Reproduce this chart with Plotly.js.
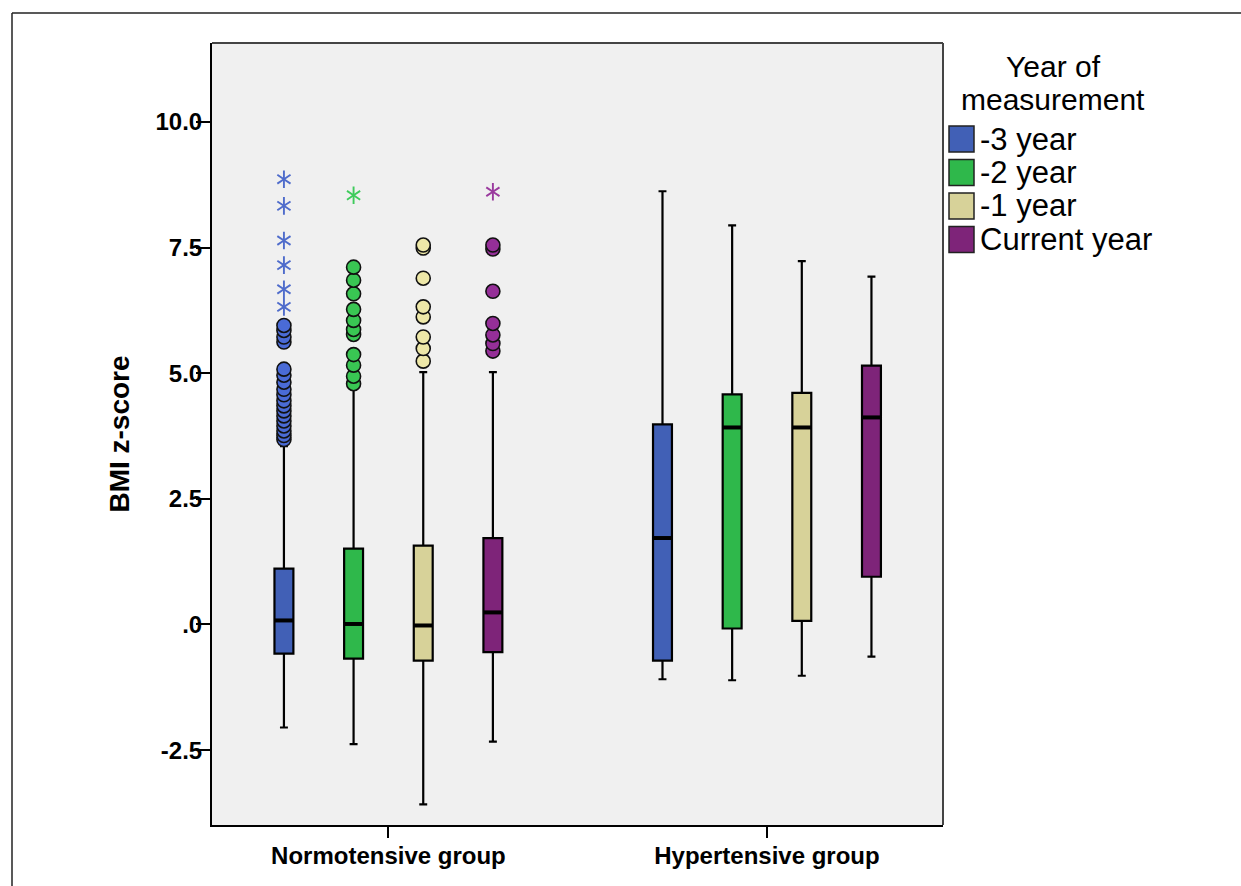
<!DOCTYPE html>
<html>
<head>
<meta charset="utf-8">
<script src="https://cdn.plot.ly/plotly-3.0.1.min.js"></script>
<style>html,body{margin:0;padding:0;background:#fff;}#chart{width:1241px;height:886px;}</style>
</head>
<body>
<div id="chart"></div>
<script>
// ---------- data ----------
const categories = ['Normotensive group', 'Hypertensive group'];
const seriesNames = ['-3 year', '-2 year', '-1 year', 'Current year'];
// rows = series, columns = [Normotensive, Hypertensive]
const lowerWhisker = [[-2.05, -1.09], [-2.38, -1.11], [-3.58, -1.02], [-2.33, -0.64]];
const q1Values     = [[-0.58, -0.72], [-0.68, -0.08], [-0.72,  0.07], [-0.55,  0.95]];
const medianValues = [[ 0.08,  1.72], [ 0.01,  3.92], [-0.02,  3.92], [ 0.24,  4.12]];
const q3Values     = [[ 1.11,  3.98], [ 1.51,  4.58], [ 1.57,  4.61], [ 1.72,  5.15]];
const upperWhisker = [[ 3.55,  8.62], [ 4.70,  7.94], [ 5.02,  7.23], [ 5.02,  6.92]];
// outliers (circles) and extremes (stars), Normotensive group only
const outlierValues = [
  [3.68, 3.76, 3.85, 3.95, 4.05, 4.15, 4.25, 4.35, 4.45, 4.57, 4.68, 4.82, 4.96, 5.08, 5.62, 5.72, 5.85, 5.95],
  [4.79, 4.94, 5.16, 5.37, 5.77, 5.87, 6.05, 6.27, 6.58, 6.85, 7.11],
  [5.24, 5.49, 5.72, 6.12, 6.32, 6.89, 7.49, 7.55],
  [5.44, 5.59, 5.76, 5.99, 6.63, 7.47, 7.55]
];
const extremeValues = [
  [6.32, 6.67, 7.15, 7.64, 8.33, 8.86],
  [8.54],
  [],
  [8.61]
];
const yTickVals = [-2.5, 0, 2.5, 5, 7.5, 10];
const yTickText = ['-2.5', '.0', '2.5', '5.0', '7.5', '10.0'];

// ---------- style ----------
const boxFill     = ['#4160B6', '#2FB84B', '#D7D299', '#7E2479'];
const outlierFill = ['#4A6BD6', '#39C653', '#EEE8A8', '#952F98'];
const starColor   = ['#4F6CCB', '#3FCB5C', '#D7D299', '#9A3A9E'];
const offsets = [-0.276, -0.092, 0.092, 0.276];
const boxWidth = 0.05;
const FONT = 'Liberation Sans, Arial, sans-serif';

const M = {l: 212, r: 298, t: 43, b: 61};
const W = 1241, H = 886;
const pw = W - M.l - M.r, ph = H - M.t - M.b;
const px = x => (x - M.l) / pw;
const py = y => (H - M.b - y) / ph;

const traces = [];
seriesNames.forEach((name, s) => {
  const xs = categories.map((c, g) => g + offsets[s]);
  traces.push({
    type: 'box', name: name, x: xs,
    q1: q1Values[s], median: medianValues[s], q3: q3Values[s],
    lowerfence: lowerWhisker[s], upperfence: upperWhisker[s],
    boxpoints: false, width: boxWidth, whiskerwidth: 0.42,
    fillcolor: boxFill[s], line: {color: '#000', width: 2.2},
    showlegend: false, hoverinfo: 'skip'
  });
  // thick median lines
  const mx = [], my = [];
  xs.forEach((x, g) => { mx.push(x - boxWidth / 2, x + boxWidth / 2, null); my.push(medianValues[s][g], medianValues[s][g], null); });
  traces.push({type: 'scatter', mode: 'lines', x: mx, y: my, line: {color: '#000', width: 4}, showlegend: false, hoverinfo: 'skip'});
  // outliers
  traces.push({
    type: 'scatter', mode: 'markers', x: outlierValues[s].map(() => xs[0]), y: outlierValues[s],
    marker: {symbol: 'circle', size: 14, color: outlierFill[s], line: {color: '#111', width: 1.6}},
    showlegend: false, hoverinfo: 'y'
  });
  // extremes (6-armed asterisk = y-up + y-down)
  const ex = [], ey = [], es = [];
  extremeValues[s].forEach(v => { ex.push(xs[0], xs[0]); ey.push(v, v); es.push('y-up-open', 'y-down-open'); });
  traces.push({
    type: 'scatter', mode: 'markers', x: ex, y: ey,
    marker: {symbol: es, size: 11, color: starColor[s], line: {color: starColor[s], width: 1.9}},
    showlegend: false, hoverinfo: 'y'
  });
});

// custom legend
const shapes = [
  // outer frame
  {type: 'line', xref: 'paper', yref: 'paper', x0: px(12), x1: px(1260), y0: py(13), y1: py(13), line: {color: '#222', width: 1.5}},
  {type: 'line', xref: 'paper', yref: 'paper', x0: px(12), x1: px(12), y0: py(13), y1: py(900), line: {color: '#222', width: 1.5}},
  // plot border (top/right)
  {type: 'line', xref: 'paper', yref: 'paper', x0: 0, x1: 1, y0: 1, y1: 1, line: {color: '#444', width: 2}},
  {type: 'line', xref: 'paper', yref: 'paper', x0: 1, x1: 1, y0: 0, y1: 1, line: {color: '#444', width: 2}}
];
const annotations = [
  {xref: 'paper', yref: 'paper', x: px(1053), y: py(67), xanchor: 'center', yanchor: 'middle', text: 'Year of', showarrow: false, font: {family: FONT, size: 30, color: '#000'}},
  {xref: 'paper', yref: 'paper', x: px(1053), y: py(100), xanchor: 'center', yanchor: 'middle', text: 'measurement', showarrow: false, font: {family: FONT, size: 30, color: '#000'}}
];
const legendY = [139, 172.5, 206, 239.5];
seriesNames.forEach((name, s) => {
  shapes.push({type: 'rect', xref: 'paper', yref: 'paper', x0: px(949), x1: px(974), y0: py(legendY[s] - 13), y1: py(legendY[s] + 13),
    fillcolor: boxFill[s], line: {color: '#222', width: 1.5}});
  annotations.push({xref: 'paper', yref: 'paper', x: px(978), y: py(legendY[s]), xanchor: 'left', yanchor: 'middle',
    text: name, showarrow: false, font: {family: FONT, size: 31, color: '#000'}});
});

const layout = {
  width: W, height: H, margin: M,
  paper_bgcolor: '#fff', plot_bgcolor: '#F0F0F0',
  showlegend: false,
  xaxis: {
    range: [-0.466, 1.465], tickvals: categories.map((c, i) => i), ticktext: categories,
    showgrid: false, zeroline: false, showline: true, linecolor: '#000', linewidth: 2,
    ticks: 'outside', ticklen: 11, tickwidth: 2, tickcolor: '#000', ticklabelstandoff: -3,
    tickfont: {family: FONT, size: 24, color: '#000', weight: 'bold'}
  },
  yaxis: {
    range: [-3.99, 11.57], tickvals: yTickVals, ticktext: yTickText,
    showgrid: false, zeroline: false, showline: true, linecolor: '#000', linewidth: 2,
    ticks: 'outside', ticklen: 14, tickwidth: 2, tickcolor: '#000', ticklabelstandoff: -11,
    tickfont: {family: FONT, size: 24, color: '#000', weight: 'bold'},
    title: {text: 'BMI z-score', font: {family: FONT, size: 28, color: '#000', weight: 'bold'}, standoff: 18}
  },
  shapes: shapes, annotations: annotations
};
Plotly.newPlot('chart', traces, layout, {staticPlot: true});
</script>
</body>
</html>
